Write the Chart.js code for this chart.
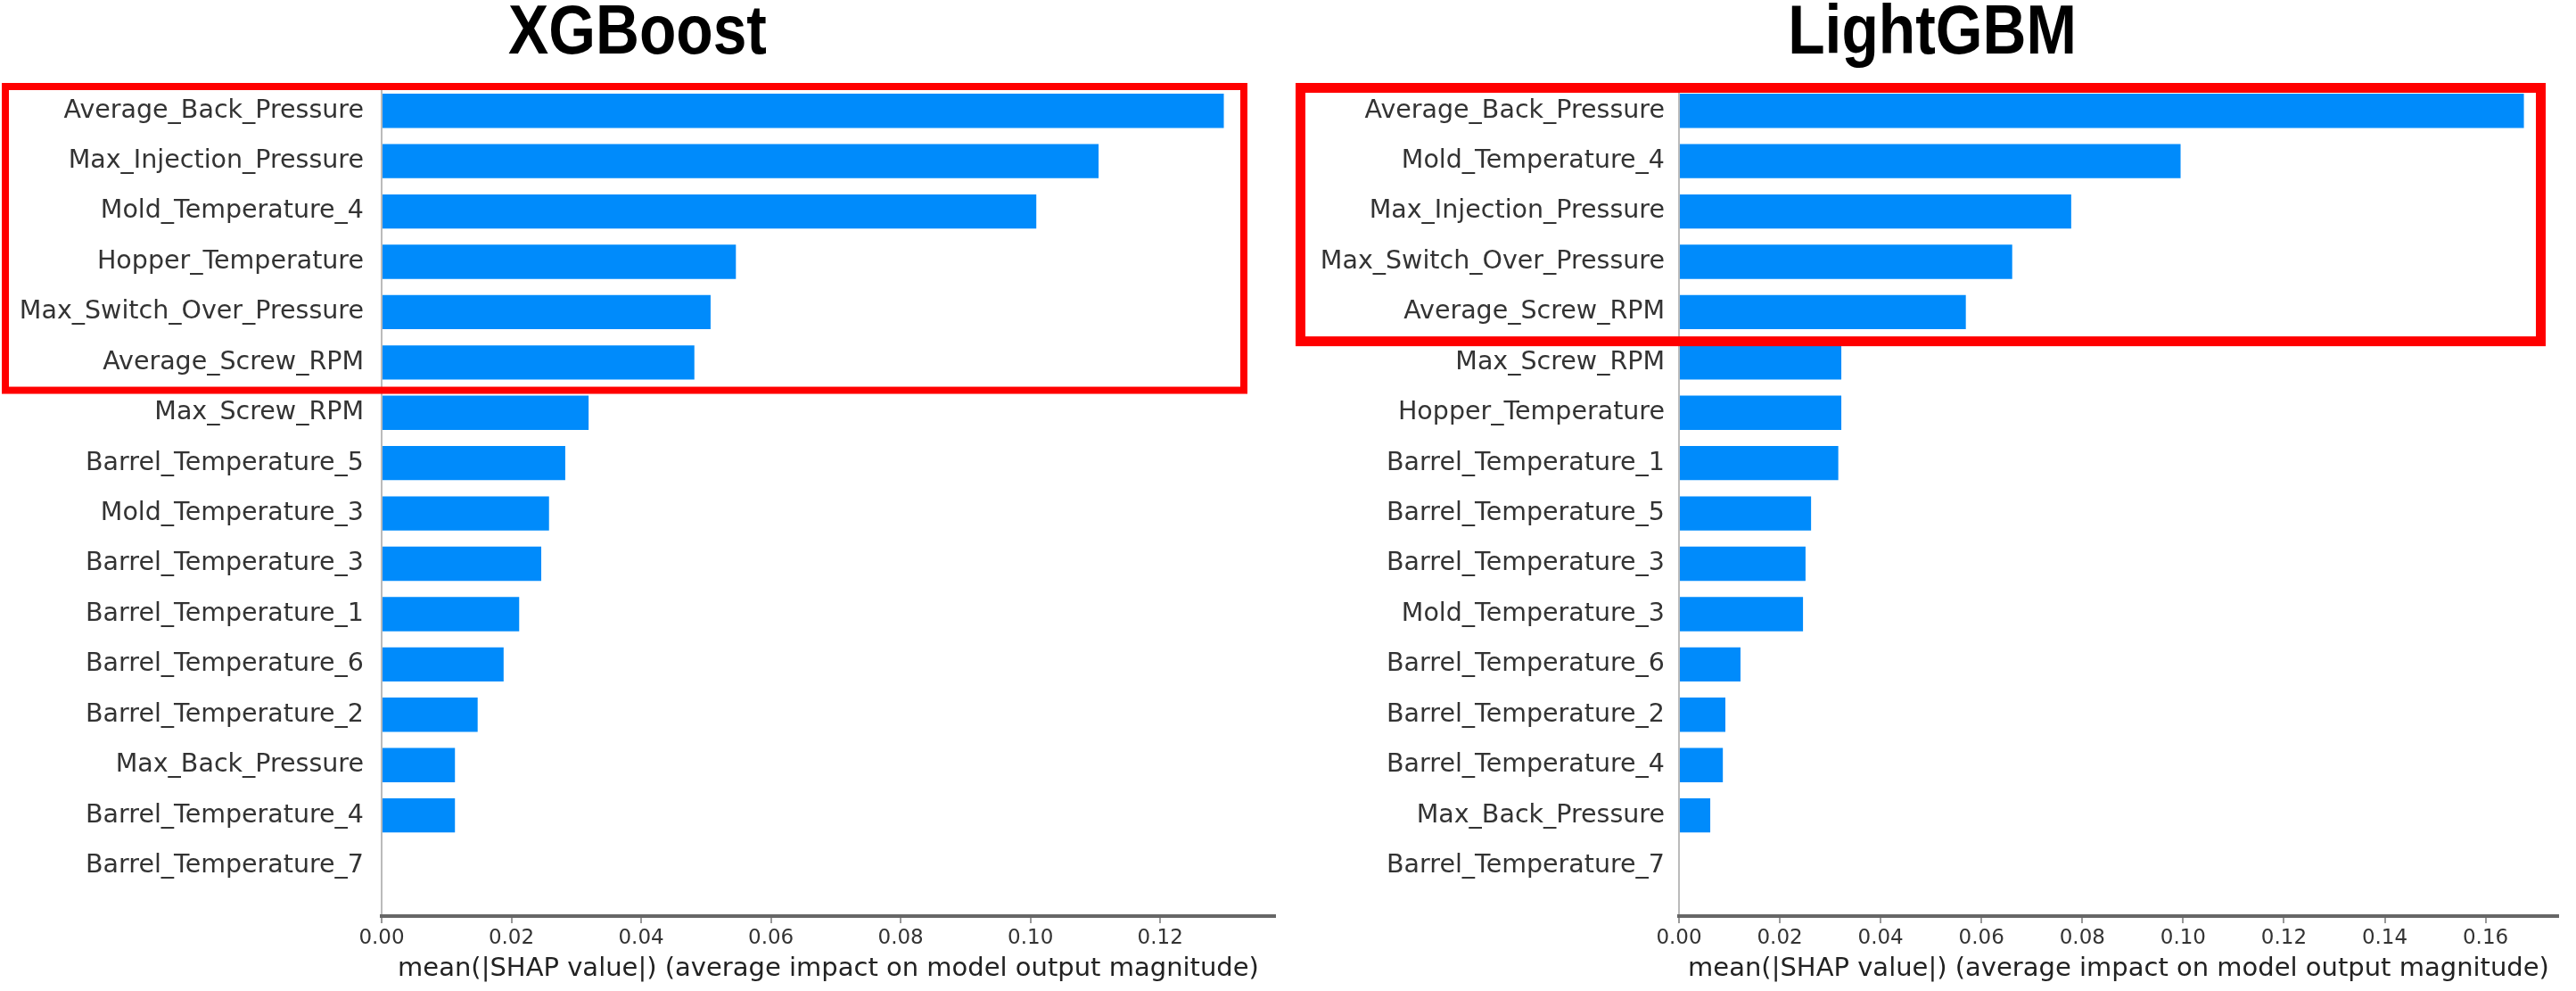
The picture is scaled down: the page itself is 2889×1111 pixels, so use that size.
<!DOCTYPE html>
<html>
<head>
<meta charset="utf-8">
<script src="https://cdn.jsdelivr.net/npm/chart.js@4.4.1/dist/chart.umd.min.js"></script>
<style>
  html, body { margin: 0; padding: 0; background: #fff; overflow: hidden; }
  body { width: 2889px; height: 1111px; position: relative; }
  canvas { position: absolute; top: 0; }
  .title {
    position: absolute; top: -5px;
    font: bold 77px "Liberation Sans", Arial, sans-serif;
    line-height: 77px; color: #000; text-align: center;
    transform: scaleX(0.88); white-space: nowrap;
  }
</style>
</head>
<body>
<div class="title" style="left:0;width:1430px">XGBoost</div>
<div class="title" style="left:1445px;width:1444px">LightGBM</div>
<canvas id="xgbChart" width="1445" height="1111" style="left:0"></canvas>
<canvas id="lgbmChart" width="1444" height="1111" style="left:1445px"></canvas>
<script>
// XGBoost
const xgbFeatures = [
  'Average_Back_Pressure', 'Max_Injection_Pressure', 'Mold_Temperature_4', 'Hopper_Temperature',
  'Max_Switch_Over_Pressure', 'Average_Screw_RPM', 'Max_Screw_RPM', 'Barrel_Temperature_5',
  'Mold_Temperature_3', 'Barrel_Temperature_3', 'Barrel_Temperature_1', 'Barrel_Temperature_6',
  'Barrel_Temperature_2', 'Max_Back_Pressure', 'Barrel_Temperature_4', 'Barrel_Temperature_7'
];
const xgbValues = [0.1298, 0.1105, 0.1009, 0.0546, 0.0507, 0.0482, 0.0319, 0.0283,
  0.0258, 0.0246, 0.0212, 0.0188, 0.0148, 0.0113, 0.0113, 0];
const xgbTicks = [0, 0.02, 0.04, 0.06, 0.08, 0.10, 0.12];
const xgbTickLabels = ['0.00', '0.02', '0.04', '0.06', '0.08', '0.10', '0.12'];

// LightGBM
const lgbmFeatures = [
  'Average_Back_Pressure', 'Mold_Temperature_4', 'Max_Injection_Pressure', 'Max_Switch_Over_Pressure',
  'Average_Screw_RPM', 'Max_Screw_RPM', 'Hopper_Temperature', 'Barrel_Temperature_1',
  'Barrel_Temperature_5', 'Barrel_Temperature_3', 'Mold_Temperature_3', 'Barrel_Temperature_6',
  'Barrel_Temperature_2', 'Barrel_Temperature_4', 'Max_Back_Pressure', 'Barrel_Temperature_7'
];
const lgbmValues = [0.1676, 0.0995, 0.0778, 0.0661, 0.0569, 0.0322, 0.0322, 0.0316,
  0.0262, 0.0251, 0.0246, 0.0122, 0.0092, 0.0087, 0.0062, 0];
const lgbmTicks = [0, 0.02, 0.04, 0.06, 0.08, 0.10, 0.12, 0.14, 0.16];
const lgbmTickLabels = ['0.00', '0.02', '0.04', '0.06', '0.08', '0.10', '0.12', '0.14', '0.16'];

const axisTitle = 'mean(|SHAP value|) (average impact on model output magnitude)';

const FONT = 'DejaVu Sans';
const BAR_BLUE = '#008bfb';

// red frame round the top rows
const highlightBox = {
  id: 'highlightBox',
  afterDraw(chart, args, o) {
    const y = chart.scales.y;
    const ctx = chart.ctx;
    const top = y.getPixelForValue(-0.5) + o.dTop;
    const bottom = y.getPixelForValue(o.rows - 0.5) + o.dBottom;
    const right = chart.chartArea.right - o.inset;
    ctx.save();
    ctx.strokeStyle = '#ff0000';
    ctx.lineWidth = o.width;
    ctx.strokeRect(o.left, top, right - o.left, bottom - top);
    ctx.restore();
  }
};

function makeChart(id, features, values, ticks, tickLabels, opt) {
  const canvas = document.getElementById(id);
  return new Chart(canvas, {
    type: 'bar',
    data: {
      datasets: [{
        data: features.map((f, i) => ({ x: values[i], y: i })),
        backgroundColor: BAR_BLUE,
        borderWidth: 0,
        categoryPercentage: 1,
        barPercentage: 0.68
      }]
    },
    options: {
      indexAxis: 'y',
      responsive: false,
      animation: false,
      devicePixelRatio: 1,
      layout: { padding: { top: 96, right: canvas.width - opt.right, left: 0, bottom: 0 } },
      scales: {
        y: {
          type: 'linear',
          reverse: true,
          offset: false,
          min: -0.5,
          max: features.length,
          afterBuildTicks: (axis) => { axis.ticks = features.map((f, i) => ({ value: i })); },
          afterFit: (axis) => { axis.width = opt.left; },
          ticks: {
            autoSkip: false,
            padding: opt.labelPad,
            color: '#333',
            font: { family: FONT, size: 28.5 },
            callback: (v) => features[v]
          },
          grid: { display: false, drawTicks: false },
          border: { display: true, color: '#bbb', width: 2 }
        },
        x: {
          type: 'linear',
          position: 'bottom',
          min: 0,
          max: opt.xMax,
          afterBuildTicks: (axis) => { axis.ticks = ticks.map(v => ({ value: v })); },
          afterFit: (axis) => { axis.height = 84; },
          ticks: {
            autoSkip: false,
            maxRotation: 0,
            padding: 3,
            color: '#333',
            font: { family: FONT, size: 23 },
            callback: (v, i) => tickLabels[i]
          },
          grid: {
            display: true,
            drawOnChartArea: false,
            drawTicks: true,
            tickLength: 8,
            color: '#999',
            lineWidth: 2
          },
          border: { display: true, color: '#666', width: 4 },
          title: {
            display: true,
            text: axisTitle,
            color: '#222',
            font: { family: FONT, size: 29 },
            padding: { top: 0, bottom: 7 }
          }
        }
      },
      plugins: {
        legend: { display: false },
        tooltip: { enabled: false },
        highlightBox: opt.box
      }
    },
    plugins: [highlightBox]
  });
}

makeChart('xgbChart', xgbFeatures, xgbValues, xgbTicks, xgbTickLabels, {
  left: 428, right: 1430, xMax: 0.1377, labelPad: 20,
  box: { rows: 6, left: 6, inset: 35, width: 8, dTop: 1, dBottom: 3 }
});

makeChart('lgbmChart', lgbmFeatures, lgbmValues, lgbmTicks, lgbmTickLabels, {
  left: 438, right: 1424, xMax: 0.1744, labelPad: 16,
  box: { rows: 5, left: 13.5, inset: 19.5, width: 11, dTop: 2.5, dBottom: 4.5 }
});
</script>
</body>
</html>
